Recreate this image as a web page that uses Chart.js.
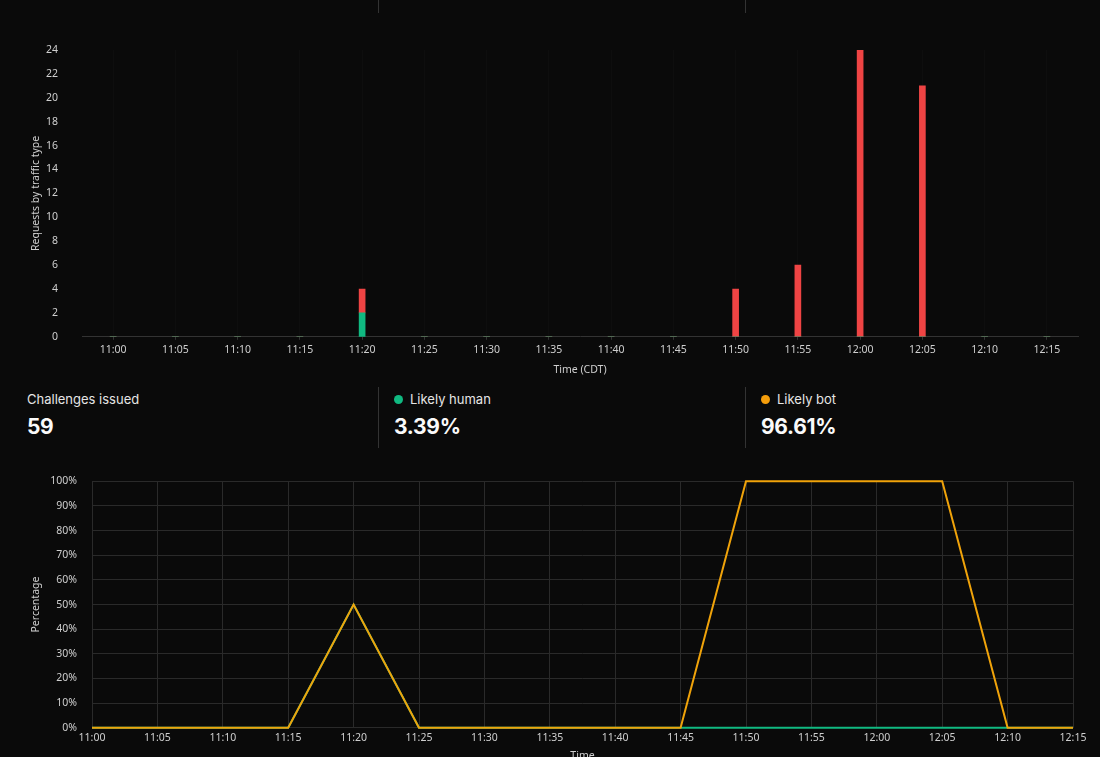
<!DOCTYPE html>
<html>
<head>
<meta charset="utf-8">
<script src="https://cdn.jsdelivr.net/npm/chart.js@4"></script>
<style>
  html, body { margin:0; padding:0; background:#0a0a0a; width:1100px; height:757px; overflow:hidden; font-family:Inter, "Noto Sans", sans-serif; }
  .sep { position:absolute; width:1px; background:#333; }
  .stat { position:absolute; top:391px; color:#e5e5e5; }
  .stat .lbl { font-size:13px; line-height:16px; display:flex; align-items:center; }
  .stat .val { font-size:21px; font-weight:700; color:#fafafa; margin-top:7px; letter-spacing:-0.3px; }
  .dot { width:9px; height:9px; border-radius:50%; display:inline-block; margin-right:7px; }
</style>
</head>
<body>
<div class="sep" style="left:378px;top:0;height:13px"></div>
<div class="sep" style="left:745px;top:0;height:13px"></div>

<div style="position:absolute;left:0;top:0;width:1100px;height:380px"><canvas id="reqChart"></canvas></div>

<div class="sep" style="left:378px;top:387px;height:61px"></div>
<div class="sep" style="left:745px;top:387px;height:61px"></div>
<div class="stat" style="left:27px"><div class="lbl">Challenges issued</div><div class="val" id="total"></div></div>
<div class="stat" style="left:394px"><div class="lbl"><span class="dot" style="background:#10b981"></span>Likely human</div><div class="val" id="humanShare"></div></div>
<div class="stat" style="left:761px"><div class="lbl"><span class="dot" style="background:#f59e0b"></span>Likely bot</div><div class="val" id="botShare"></div></div>

<div style="position:absolute;left:0;top:460px;width:1100px;height:306px"><canvas id="pctChart"></canvas></div>

<script>
// 5 minute buckets
var timeLabels = ['11:00','11:05','11:10','11:15','11:20','11:25','11:30','11:35','11:40','11:45','11:50','11:55','12:00','12:05','12:10','12:15'];
var humanRequests = [0,0,0,0,2,0,0,0,0,0,0,0,0,0,0,0];
var botRequests   = [0,0,0,0,2,0,0,0,0,0,4,6,24,21,0,0];
var humanPct = [0,0,0,0,50,0,0,0,0,0,0,0,0,0,0,0];
var botPct   = [0,0,0,0,50,0,0,0,0,0,100,100,100,100,0,0];
var pctTicks = [0,10,20,30,40,50,60,70,80,90,100];

var tickColor = '#cfcfcf';
var tickFont = { family: '"Noto Sans", "Open Sans", sans-serif', size: 10.5 };

// stats row
var humanSum = 0, botSum = 0;
for (var i = 0; i < timeLabels.length; i++) {
  humanSum += humanRequests[i];
  botSum += botRequests[i];
}
var total = humanSum + botSum;
document.getElementById('total').textContent = total;
document.getElementById('humanShare').textContent = (humanSum / total * 100).toFixed(2) + '%';
document.getElementById('botShare').textContent = (botSum / total * 100).toFixed(2) + '%';

Chart.defaults.animation = false;

new Chart(document.getElementById('reqChart').getContext('2d'), {
  type: 'bar',
  data: {
    labels: timeLabels,
    datasets: [
      { label: 'Likely human', data: humanRequests, backgroundColor: '#10b981', barThickness: 6, borderWidth: 0 },
      { label: 'Likely bot', data: botRequests, backgroundColor: '#ef4444', barThickness: 6, borderWidth: 0 }
    ]
  },
  options: {
    responsive: true,
    maintainAspectRatio: false,
    layout: { padding: { left: 26, right: 22, top: 50, bottom: 0 } },
    plugins: { legend: { display: false }, tooltip: { enabled: false } },
    scales: {
      x: {
        stacked: true,
        grid: { color: 'rgba(255,255,255,0.02)', tickColor: '#333', tickLength: 3, offset: false },
        border: { color: '#333' },
        ticks: { color: tickColor, font: tickFont, padding: 4, maxRotation: 0, autoSkip: false },
        title: { display: true, text: 'Time (CDT)', color: tickColor, font: tickFont, padding: { top: 3, bottom: 4 } }
      },
      y: {
        stacked: true,
        min: 0, max: 24,
        grid: { display: false, drawTicks: false },
        border: { display: false },
        ticks: { stepSize: 2, color: tickColor, font: tickFont, padding: 24 },
        title: { display: true, text: 'Requests by traffic type', color: tickColor, font: tickFont, padding: { top: 4, bottom: 4 } },
        afterFit: function(s) { s.width = 56; }
      }
    }
  }
});

new Chart(document.getElementById('pctChart').getContext('2d'), {
  type: 'line',
  data: {
    labels: timeLabels,
    datasets: [
      { label: 'Likely bot', data: botPct, borderColor: '#f0a30a', borderWidth: 2, pointRadius: 0, tension: 0, fill: false, clip: false },
      { label: 'Likely human', data: humanPct, borderColor: '#10b981', borderWidth: 2, pointRadius: 0, tension: 0, fill: false, clip: false }
    ]
  },
  options: {
    responsive: true,
    maintainAspectRatio: false,
    layout: { padding: { left: 26, right: 27, top: 19, bottom: 0 } },
    plugins: { legend: { display: false }, tooltip: { enabled: false } },
    scales: {
      x: {
        grid: { color: '#2a2a2a', drawTicks: false },
        border: { color: '#2a2a2a' },
        ticks: { color: tickColor, font: tickFont, padding: 4, maxRotation: 0, autoSkip: false },
        title: { display: true, text: 'Time', color: tickColor, font: tickFont, padding: { top: 1, bottom: 4 } }
      },
      y: {
        min: 0, max: 100,
        afterBuildTicks: function(s) { s.ticks = pctTicks.map(function(v) { return { value: v }; }); },
        grid: { color: '#2a2a2a', drawTicks: false },
        border: { display: false },
        ticks: { color: tickColor, font: tickFont, padding: 15, callback: function(v) { return v + '%'; } },
        title: { display: true, text: 'Percentage', color: tickColor, font: tickFont, padding: { top: 4, bottom: 4 } },
        afterFit: function(s) { s.width = 66; }
      }
    }
  }
});
</script>
</body>
</html>
